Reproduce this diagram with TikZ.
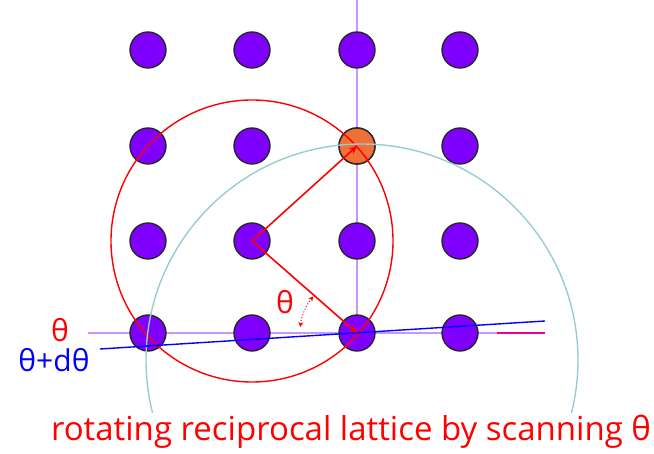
\documentclass[tikz,border=0pt]{standalone}
\usepackage{fontspec}
\setmainfont{Open Sans}
\usetikzlibrary{arrows.meta}
\definecolor{dotfill}{RGB}{128,0,255}
\definecolor{dotorange}{RGB}{240,112,56}
\definecolor{ewald}{RGB}{150,205,210}
\definecolor{axpurple}{RGB}{200,150,255}
\definecolor{lblue}{RGB}{0,0,255}
\tikzset{
  latt/.style={circle,draw=black!85,line width=1.4pt,fill=dotfill,minimum size=36pt,inner sep=0pt},
  rayline/.style={red,line width=1.6pt,-{Stealth[length=8pt,width=7pt]}},
}
\begin{document}
\begin{tikzpicture}[x=1pt,y=-1pt]
\useasboundingbox (0,0) rectangle (654,454);
% axes
\draw[axpurple,line width=1.3pt] (357,0) -- (357,345);
\coordinate (hl) at (88,333);
\coordinate (hm) at (497,333);
\coordinate (hr) at (545,333);
\draw[axpurple,line width=1.3pt] (hl) -- (hm);
\draw[magenta,line width=1.3pt] (hm) -- (hr);
% lattice
\foreach \r/\y in {1/50,2/146,3/241,4/333}{
  \foreach \c/\x in {1/148,2/252,3/357,4/460}{
    \node[latt] (d\r\c) at (\x,\y) {};
  }
}
\node[latt,fill=dotorange] (d23) at (357,146) {};
% red circle
\draw[red,line width=1.4pt] (252,241) circle (141pt);
% Ewald circle
\begin{scope}
\clip (0,0) rectangle (654,413);
\draw[ewald,line width=1.4pt] (362,360) circle (216pt);
\end{scope}
% blue rotated axis
\coordinate (bl) at (100,349);
\coordinate (br) at (545,321);
\draw[lblue,line width=1.4pt] (bl) -- (br);
% rays
\draw[rayline] (d32.center) -- (d23.center);
\draw[rayline] (d32.center) -- (d43.center);
% theta arc
\draw[red,line width=1pt,dotted,{Stealth[length=5pt,width=5pt]}-{Stealth[length=5pt,width=5pt]}]
  ([shift={(174:57pt)}]d43.center) arc[start angle=174,end angle=140,radius=57pt];
% labels
\node[red,font=\fontsize{30}{30}\selectfont] (th) at (285,302) {θ};
\node[red,font=\fontsize{30}{30}\selectfont] (th0) at (60,330) {θ};
\node[lblue,font=\fontsize{30}{30}\selectfont] (thd) at (54,360) {θ+dθ};
\node[red,font=\fontsize{33}{33}\selectfont] (cap) at (351,432) {rotating reciprocal lattice by scanning θ};
\end{tikzpicture}
\end{document}
